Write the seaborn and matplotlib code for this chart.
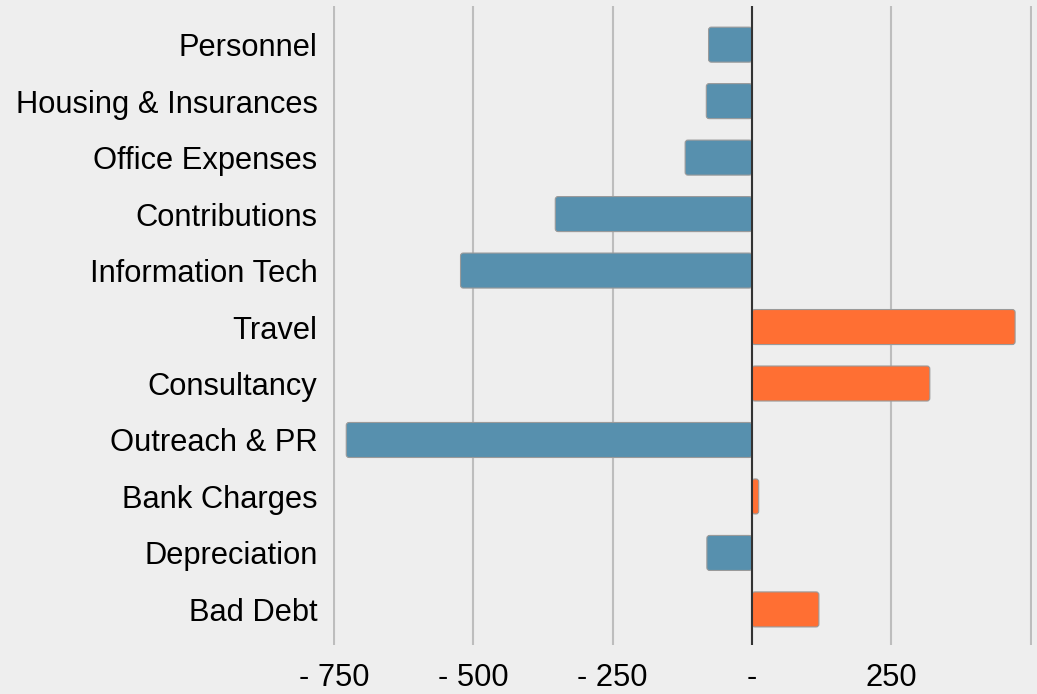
import numpy as np
import pandas as pd
import matplotlib
matplotlib.use("Agg")
import matplotlib.pyplot as plt
from matplotlib.patches import FancyBboxPatch
import seaborn as sns

# Budget variance per cost category
categories = ["Personnel", "Housing & Insurances", "Office Expenses", "Contributions",
              "Information Tech", "Travel", "Consultancy", "Outreach & PR",
              "Bank Charges", "Depreciation", "Bad Debt"]
variance = [-78, -82, -120, -353, -523, 472, 319, -728, 12, -81, 120]

tick_values = [-750, -500, -250, 0, 250, 500]
tick_labels = ["- 750", "- 500", "- 250", "-", "250", ""]

BLUE = "#5790AE"
ORANGE = "#FF6F33"
BG = "#EEEEEE"

df = pd.DataFrame({"category": categories, "variance": variance})
df["sign"] = np.where(df["variance"] < 0, "neg", "pos")

sns.set_style("white")
plt.rcParams["font.family"] = ["Liberation Sans", "DejaVu Sans"]

fig = plt.figure(figsize=(10.37, 6.94), dpi=100, facecolor=BG)
ax = fig.add_axes([0.321, 0.0706, 0.674, 0.9204])
ax.set_facecolor(BG)

sns.barplot(data=df, x="variance", y="category", hue="sign", order=categories,
            palette={"neg": BLUE, "pos": ORANGE}, dodge=False, legend=False,
            width=0.62, edgecolor="#9A9A9A", linewidth=0.8, saturation=1, ax=ax)

ax.set_xlim(-752, 502)
ax.set_ylim(10.63, -0.68)

# swap the square bars for slightly rounded ones
radius = 5  # x data units (~3 px)
aspect = (1 / 56.5) / (1 / 0.556)  # y units per x unit at this size
for p in list(ax.patches):
    x, y = p.get_x(), p.get_y()
    w, h = p.get_width(), p.get_height()
    if w < 0:
        x, w = x + w, -w
    if w == 0:
        continue
    rb = FancyBboxPatch((x, y), w, h,
                        boxstyle=f"round,pad=0,rounding_size={min(radius, w / 2)}",
                        mutation_aspect=aspect, facecolor=p.get_facecolor(),
                        edgecolor="#9A9A9A", linewidth=0.8, zorder=2)
    p.remove()
    ax.add_patch(rb)

ax.set_xticks(tick_values)
ax.set_xticklabels(tick_labels)
ax.grid(axis="x", color="#BDBDBD", linewidth=1.5)
ax.grid(axis="y", visible=False)
ax.set_axisbelow(True)
ax.axvline(0, color="#333333", linewidth=1.5, zorder=3)

for s in ax.spines.values():
    s.set_visible(False)
ax.tick_params(axis="both", length=0, labelsize=22.2, colors="#000000")
ax.tick_params(axis="y", pad=11)
ax.tick_params(axis="x", pad=13)
ax.set_xlabel("")
ax.set_ylabel("")

fig.savefig("out.png", dpi=100, facecolor=BG)
